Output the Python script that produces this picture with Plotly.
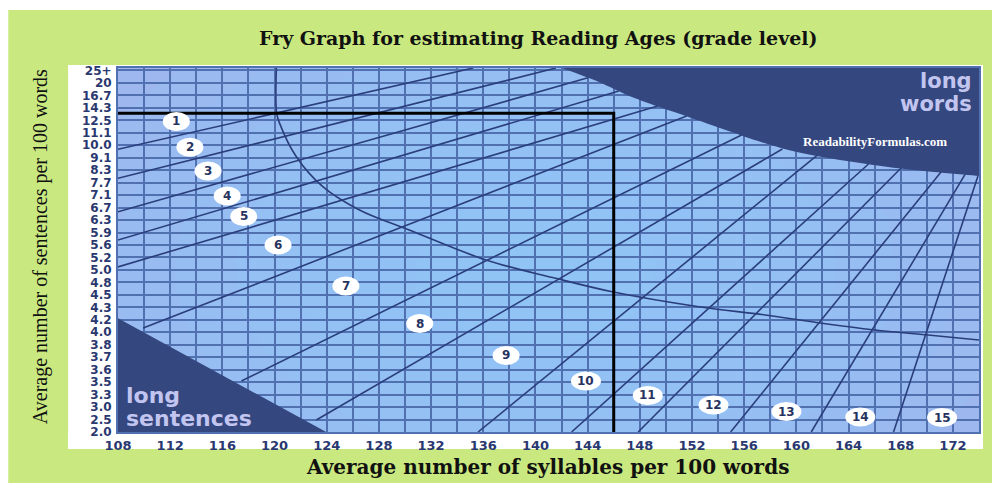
import plotly.graph_objects as go

# ---------------- data ----------------
syllable_ticks = list(range(108, 173, 4))
sentence_labels = ["2.0", "2.5", "3.0", "3.3", "3.5", "3.6", "3.7", "3.8", "4.0", "4.2",
                   "4.3", "4.5", "4.8", "5.0", "5.2", "5.6", "5.9", "6.3", "6.7", "7.1",
                   "7.7", "8.3", "9.1", "10.0", "11.1", "12.5", "14.3", "16.7", "20", "25+"]
sentence_idx = list(range(len(sentence_labels)))

grade_numbers = [str(i) for i in range(1, 16)]
grade_x = [112.47, 113.51, 114.90, 116.37, 117.64, 120.27, 125.47, 131.13, 137.75,
           143.87, 148.61, 153.65, 159.24, 164.90, 171.17]
grade_y = [24.91, 22.85, 20.94, 18.93, 17.29, 15.00, 11.71, 8.70, 6.14,
           4.09, 2.93, 2.17, 1.64, 1.20, 1.16]

# grade boundary lines (start and end points, syllables / sentence-row index)
bound_x0 = [108.0, 108.0, 108.0, 108.0, 108.0, 109.93, 117.46, 123.20, 135.60,
            142.77, 147.87, 154.96, 161.14, 167.45]
bound_y0 = [22.68, 20.35, 17.67, 15.40, 13.24, 8.34, 4.09, 0.96, 0.0,
            0.0, 0.0, 0.0, 0.0, 0.0]
bound_x1 = [135.23, 141.57, 144.02, 146.39, 149.37, 151.59, 155.80, 158.93, 161.61,
            165.53, 168.03, 171.09, 172.93, 173.92]
bound_y1 = [29.2, 29.2, 28.41, 27.35, 26.15, 25.35, 23.82, 22.70, 22.22,
            21.50, 21.18, 20.86, 20.66, 20.54]

arc_x = [120.14, 120.16, 120.39, 121.67, 123.70, 126.51, 130.33, 136.20, 141.55,
         145.88, 152.52, 157.61, 161.94, 166.02, 170.09, 174.0]
arc_y = [29.2, 25.59, 24.76, 22.08, 19.68, 17.81, 16.20, 13.80, 12.33,
         11.25, 10.05, 9.39, 8.72, 8.18, 7.78, 7.38]

long_words_x = [140.0, 142.03, 144.86, 147.39, 151.74, 159.39, 167.04, 174.0, 175.0, 175.0]
long_words_y = [30.0, 29.2, 28.08, 26.87, 25.27, 22.62, 21.26, 20.54, 20.45, 30.0]

long_sent_x = [108.0, 123.96, 108.0]
long_sent_y = [9.12, 0.0, 0.0]

example_syllables = 146.0
example_sentences = 25.57

# ---------------- style ----------------
GRID = "#5070b0"
NAVY_LINE = "#2b3e7c"
DARK = "#35477f"
TICK_COL = "#2a3870"
GREEN = "#c9e980"
PALE = "#c2c5ef"
W, H = 992, 483
ML, MR, MT, MB = 118, 11, 68, 51
PW, PH = W - ML - MR, H - MT - MB


def px_to_paper_x(px):
    return (px - ML) / PW


def px_to_paper_y(py):
    return 1 - (py - MT) / PH


fig = go.Figure()

fig.add_trace(go.Scatter(x=long_sent_x, y=long_sent_y, fill="toself", mode="lines",
                         line=dict(width=0, color=DARK), fillcolor=DARK,
                         hoverinfo="skip", showlegend=False))
fig.add_trace(go.Scatter(x=long_words_x, y=long_words_y, fill="toself", mode="lines",
                         line=dict(width=0, color=DARK, shape="spline", smoothing=0.8),
                         fillcolor=DARK, hoverinfo="skip", showlegend=False))

for x0, y0, x1, y1 in zip(bound_x0, bound_y0, bound_x1, bound_y1):
    fig.add_trace(go.Scatter(x=[x0, x1], y=[y0, y1], mode="lines",
                             line=dict(color=NAVY_LINE, width=1.6),
                             hoverinfo="skip", showlegend=False))

fig.add_trace(go.Scatter(x=arc_x, y=arc_y, mode="lines",
                         line=dict(color=NAVY_LINE, width=1.6, shape="spline", smoothing=1.0),
                         hoverinfo="skip", showlegend=False))

fig.add_trace(go.Scatter(x=[syllable_ticks[0], example_syllables, example_syllables],
                         y=[example_sentences, example_sentences, sentence_idx[0]],
                         mode="lines", line=dict(color="black", width=3),
                         hoverinfo="skip", showlegend=False))

shapes = []


def paper_rect(x0, x1, y0, y1, color):
    shapes.append(dict(type="rect", xref="paper", yref="paper", layer="below",
                       x0=px_to_paper_x(x0), x1=px_to_paper_x(x1),
                       y0=px_to_paper_y(y1), y1=px_to_paper_y(y0),
                       fillcolor=color, line=dict(width=0)))


# white outer border strips (top and left)
paper_rect(-2, W + 2, -2, 10, "white")
paper_rect(-2, 8, -2, H + 2, "white")
# white panel around the plot area (strips, so the plot background stays visible)
paper_rect(68, ML, 65, 449, "white")
paper_rect(W - MR, 985, 65, 449, "white")
paper_rect(68, 985, 65, MT, "white")
paper_rect(68, 985, H - MB, 449, "white")

# radial glow in plot background (clipped to plot area)
cx, cy = 140.0, 13.0
for k in range(10):
    f = 1 - k / 10
    shapes.append(dict(type="circle", xref="x", yref="y", layer="below",
                       x0=cx - 46 * f, x1=cx + 46 * f, y0=cy - 30 * f, y1=cy + 30 * f,
                       fillcolor="#8ccbf9", opacity=0.17, line=dict(width=0)))
# grade label ellipses
for gx, gy, g in zip(grade_x, grade_y, grade_numbers):
    hw = 13.5 if len(g) == 1 else 15
    shapes.append(dict(type="circle", xref="x", yref="y", layer="above",
                       xsizemode="pixel", ysizemode="pixel", xanchor=gx, yanchor=gy,
                       x0=-hw, x1=hw, y0=-9.5, y1=9.5,
                       fillcolor="white", line=dict(width=0)))

annotations = []
for gx, gy, g in zip(grade_x, grade_y, grade_numbers):
    annotations.append(dict(x=gx, y=gy, xref="x", yref="y", text=g, showarrow=False,
                            xanchor="center", yanchor="middle",
                            font=dict(family="DejaVu Sans", size=12, color="#27335f", weight="bold")))


def ann(text, px, py, size, family, color, xanchor="center", weight="normal", angle=0):
    annotations.append(dict(text=text, xref="paper", yref="paper",
                            x=px_to_paper_x(px), y=px_to_paper_y(py),
                            xanchor=xanchor, yanchor="middle", showarrow=False,
                            textangle=angle,
                            font=dict(family=family, size=size, color=color, weight=weight)))


ann("Fry Graph for estimating Reading Ages (grade level)", 539.5, 38, 19,
    "DejaVu Serif", "#111111", weight="bold")
ann("Average number of syllables per 100 words", 548.5, 467, 20,
    "DejaVu Serif", "#111111", weight="bold")
ann("Average number of sentences per 100 words", 40, 247, 20,
    "Liberation Serif", "#111111", angle=-90)
ann("long", 976, 81, 21, "DejaVu Sans", PALE, xanchor="right", weight="bold")
ann("words", 976, 104, 21, "DejaVu Sans", PALE, xanchor="right", weight="bold")
ann("long", 124, 395, 22, "DejaVu Sans", PALE, xanchor="left", weight="bold")
ann("sentences", 124, 418, 22, "DejaVu Sans", PALE, xanchor="left", weight="bold")
ann("ReadabilityFormulas.com", 877, 141, 13, "Liberation Serif", "white", weight="bold")

axis_common = dict(showgrid=True, gridcolor=GRID, gridwidth=2, zeroline=False,
                   showline=True, linecolor=GRID, linewidth=2, mirror=True,
                   fixedrange=True)

fig.update_layout(
    width=W, height=H,
    margin=dict(l=ML, r=MR, t=MT, b=MB),
    paper_bgcolor=GREEN, plot_bgcolor="#a7b0ea",
    shapes=shapes, annotations=annotations, showlegend=False,
    xaxis=dict(range=[108, 174], tickvals=syllable_ticks, ticks="",
               minor=dict(tick0=108, dtick=2, showgrid=True, gridcolor=GRID, gridwidth=2),
               tickfont=dict(family="DejaVu Sans", size=13, color=TICK_COL, weight="bold"),
               **axis_common),
    yaxis=dict(range=[0, 29.2], tickvals=sentence_idx, ticktext=sentence_labels,
               ticks="outside", ticklen=2, tickcolor="rgba(0,0,0,0)",
               tickfont=dict(family="DejaVu Sans", size=12, color=TICK_COL, weight="bold"),
               **axis_common),
)

fig.write_html("out.html", config={"displayModeBar": False},
               post_script="document.body.style.margin='0px';")
